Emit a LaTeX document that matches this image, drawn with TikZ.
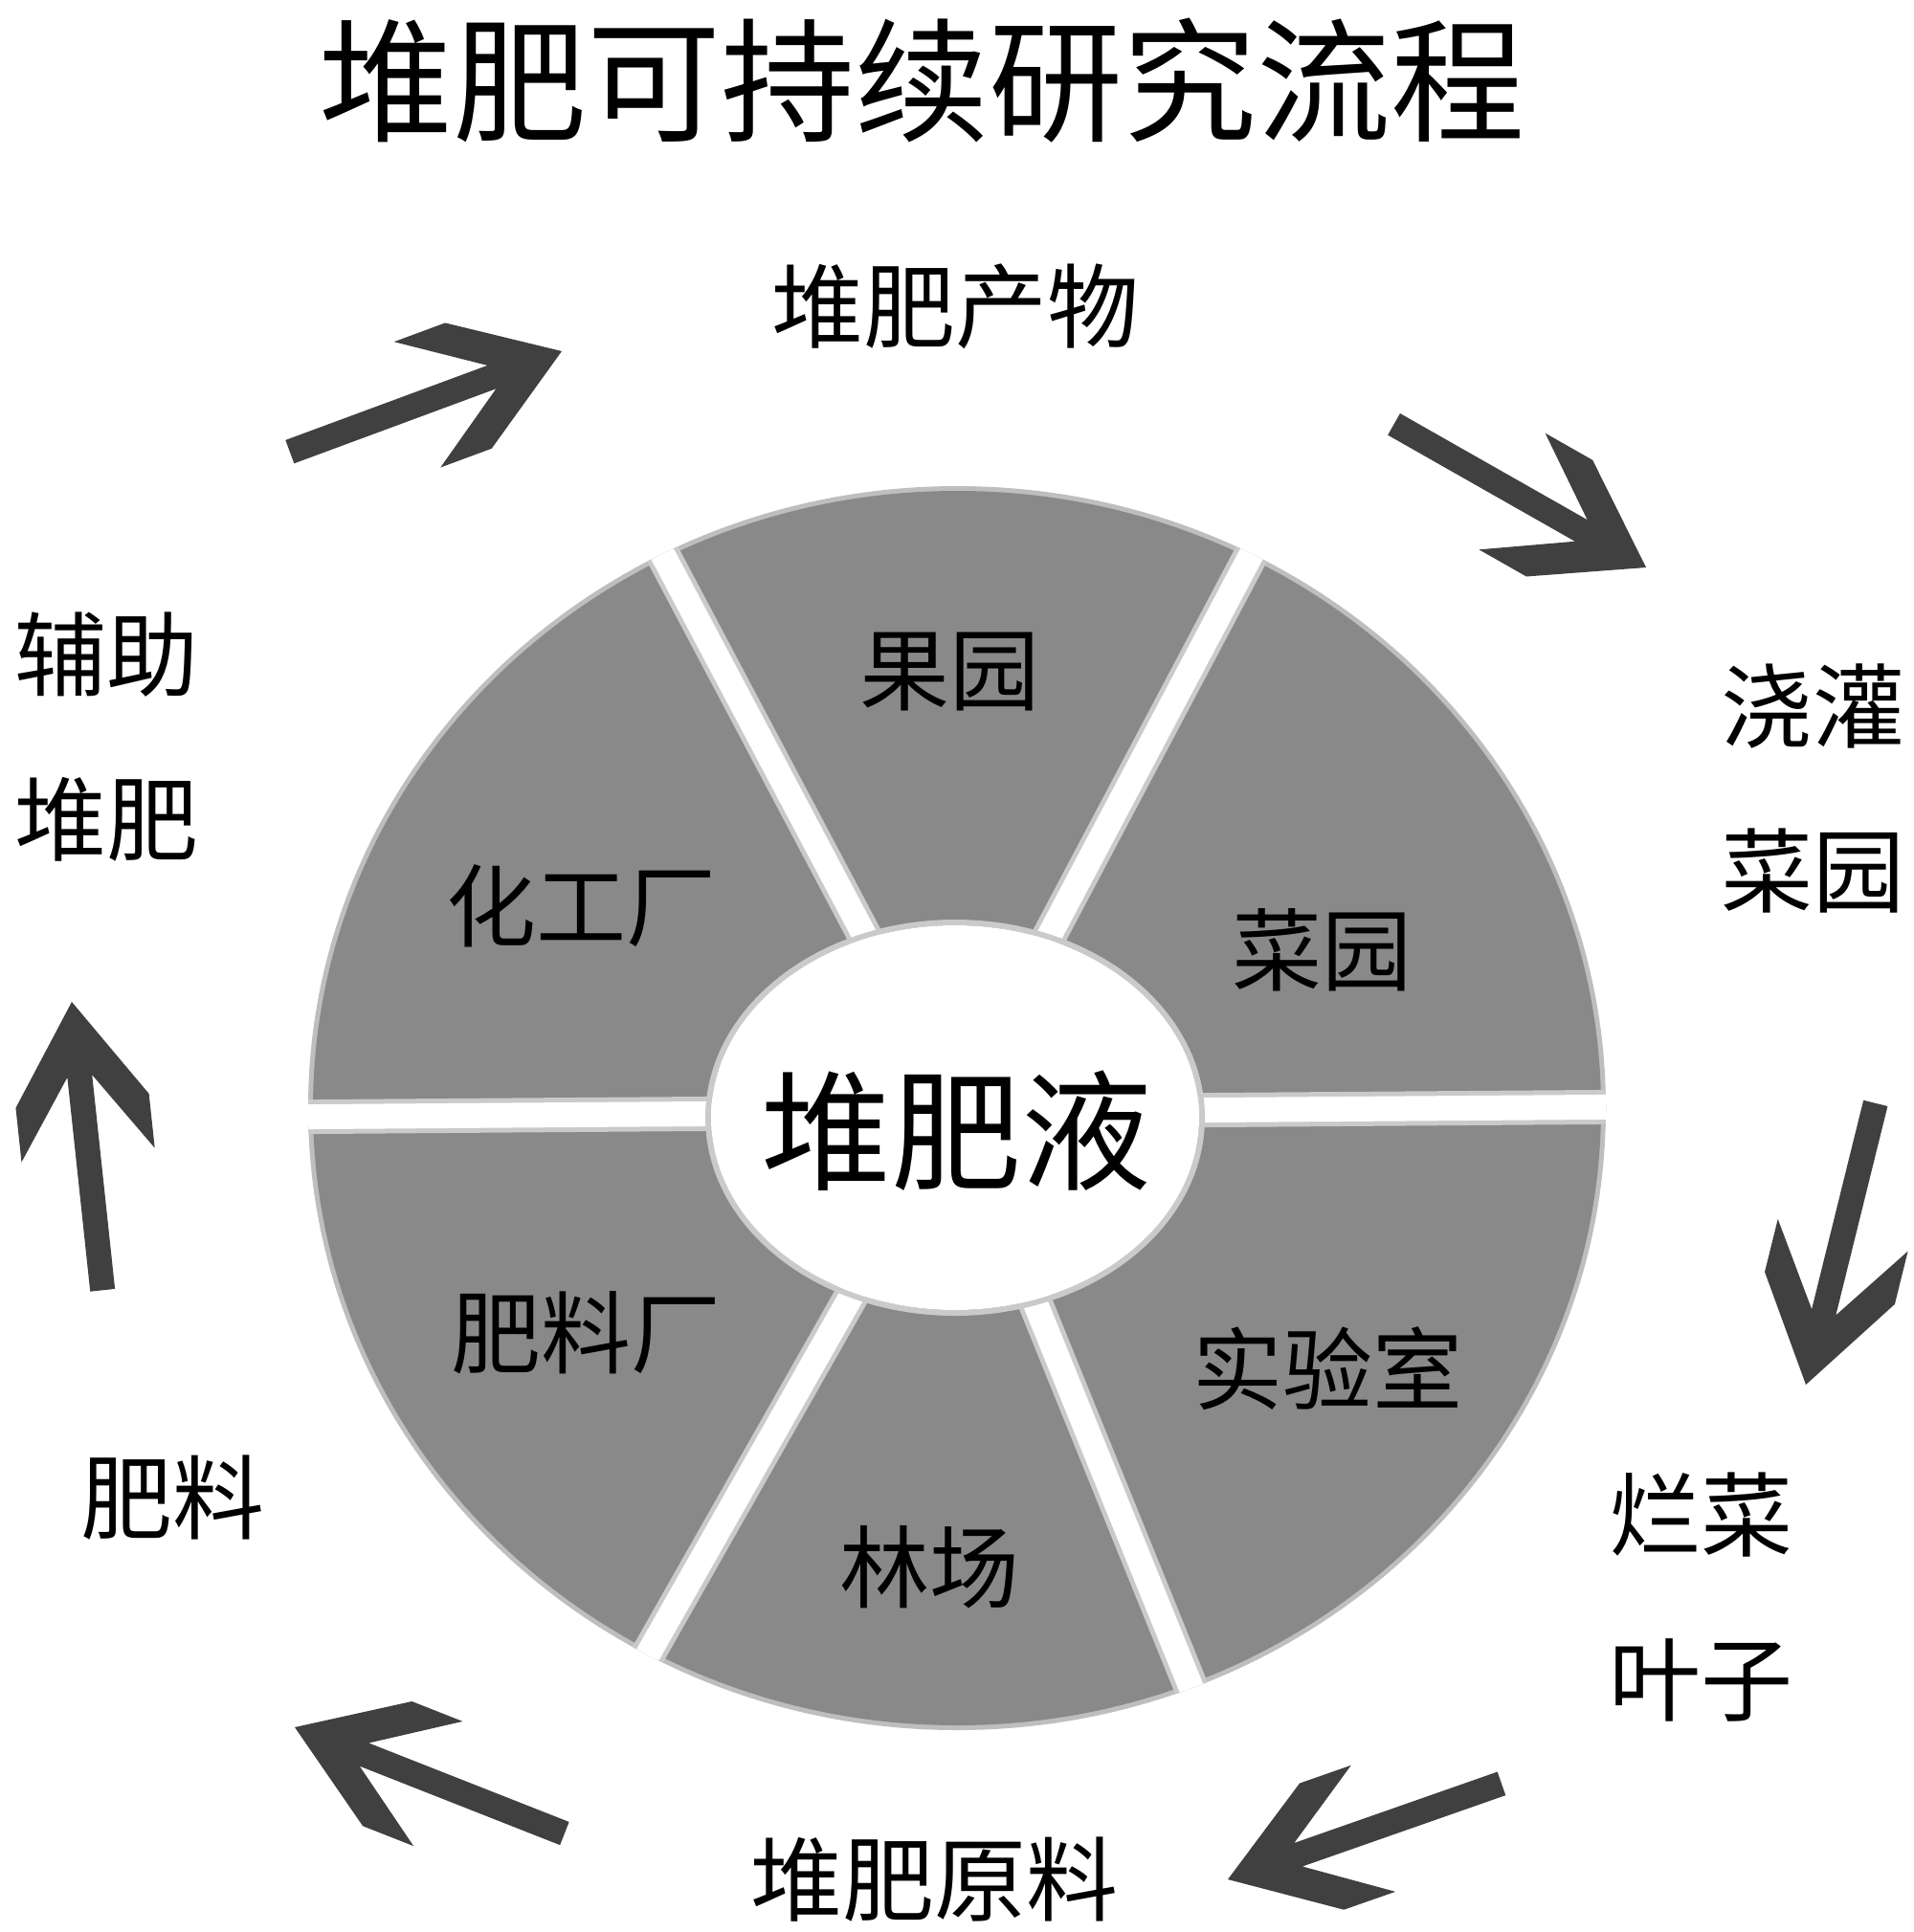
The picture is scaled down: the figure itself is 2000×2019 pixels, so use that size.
\documentclass[tikz,border=0pt]{standalone}
\usepackage{fontspec}
\newfontfamily\cjk{Noto Sans CJK SC}
\definecolor{wheelgray}{HTML}{898989}
\definecolor{arrowgray}{HTML}{404040}
\begin{document}
\begin{tikzpicture}[x=0.5pt,y=-0.5pt,
  lbl/.style={font=\cjk\fontsize{48}{86}\selectfont, align=center, inner sep=0pt, text=black},
  seg/.style={font=\cjk\fontsize{47}{56}\selectfont, inner sep=0pt, text=black},
  gapsoft/.style={wheelgray!45!white, line width=18pt},
  gap/.style={white, line width=13pt},
  fatarrow/.pic={\fill[arrowgray] (0,0) -- (-104,70) -- (-161,70) -- (-78,13) -- (-303,13) -- (-303,-13) -- (-78,-13) -- (-161,-70) -- (-104,-70) -- cycle;}]
\fill[white] (0,0) rectangle (2000,2019);
\useasboundingbox (0,0) rectangle (2000,2019);

% title
\node[font=\cjk\fontsize{70}{80}\selectfont, inner sep=0pt] (title) at (963,84) {堆肥可持续研究流程};

% wheel with soft edges
\coordinate (c) at (1000,1160);
\draw[wheelgray!55!white, line width=3pt] (1000,1158) ellipse [x radius=337.5pt, y radius=323.5pt];
\fill[wheelgray] (1000,1158) ellipse [x radius=336.5pt, y radius=322.5pt];
\begin{scope}
\clip (1000,1158) ellipse [x radius=339pt, y radius=325pt];
\draw[gapsoft] (200,1168) -- (1800,1156);
\draw[gapsoft] (c) -- (1375,452);
\draw[gapsoft] (c) -- (625,452);
\draw[gapsoft] (c) -- (606,1854);
\draw[gapsoft] (c) -- (1300,1900);
\draw[gap] (200,1168) -- (1800,1156);
\draw[gap] (c) -- (1375,452);
\draw[gap] (c) -- (625,452);
\draw[gap] (c) -- (606,1854);
\draw[gap] (c) -- (1300,1900);
\end{scope}
\draw[wheelgray!45!white, line width=3pt] (998,1168) ellipse [x radius=129pt, y radius=102pt];
\fill[white] (998,1168) ellipse [x radius=127.5pt, y radius=100.5pt];

\node[font=\cjk\fontsize{68}{80}\selectfont, inner sep=0pt] (center) at (999,1182) {堆肥液};
\node[seg] (s1) at (992,702) {果园};
\node[seg] (s2) at (1381,993) {菜园};
\node[seg] (s3) at (1387,1430) {实验室};
\node[seg] (s4) at (971,1638) {林场};
\node[seg] (s5) at (612,1393) {肥料厂};
\node[seg] (s6) at (607,947) {化工厂};

% outer labels
\node[lbl] (l1) at (998,320) {堆肥产物};
\node[lbl] (l2) at (1894,824) {浇灌\\菜园};
\node[lbl] (l3) at (1777,1669) {烂菜\\叶子};
\node[lbl] (l4) at (976,1964) {堆肥原料};
\node[lbl] (l5) at (180,1565) {肥料};
\node[lbl] (l6) at (112,770) {辅助\\堆肥};

% arrows
\coordinate (a1) at (587,367);
\coordinate (a2) at (1720,593);
\coordinate (a3) at (1887,1447);
\coordinate (a4) at (1283,1964);
\coordinate (a5) at (308,1805);
\coordinate (a6) at (75,1047);
\pic[rotate=20.3] at (a1) {fatarrow};
\pic[rotate=-29.6] at (a2) {fatarrow};
\pic[rotate=256.1] at (a3) {fatarrow};
\pic[rotate=199.3] at (a4) {fatarrow};
\pic[rotate=158.5] at (a5) {fatarrow};
\pic[rotate=96.1] at (a6) {fatarrow};
\end{tikzpicture}
\end{document}
